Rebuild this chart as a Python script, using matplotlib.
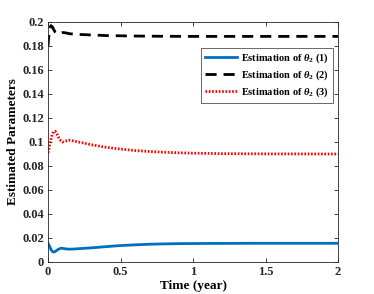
import matplotlib
matplotlib.use("Agg")
import matplotlib.pyplot as plt

plt.rcParams['font.family'] = ['Liberation Serif', 'DejaVu Serif']
plt.rcParams['mathtext.fontset'] = 'custom'
plt.rcParams['mathtext.it'] = 'Liberation Serif:italic:bold'
plt.rcParams['mathtext.rm'] = 'Liberation Serif:bold'
plt.rcParams['mathtext.bf'] = 'Liberation Serif:bold'
plt.rcParams['mathtext.bfit'] = 'Liberation Serif:italic:bold'

t1 = [0, 0.01, 0.02, 0.03, 0.04, 0.05, 0.07, 0.09, 0.11, 0.13, 0.16, 0.2, 0.3, 0.4, 0.5, 0.6, 0.7, 0.8, 0.9, 1.0, 1.2, 1.4, 1.6, 1.8, 2.0]
y1 = [0.0155, 0.0135, 0.0105, 0.0088, 0.0082, 0.0088, 0.0105, 0.0115, 0.0112, 0.0108, 0.0107, 0.0110, 0.0118, 0.0128, 0.0137, 0.0143, 0.0148, 0.0151, 0.0153, 0.0154, 0.0155, 0.0156, 0.0156, 0.0156, 0.0156]

t2 = [0, 0.005, 0.01, 0.02, 0.03, 0.04, 0.05, 0.06, 0.08, 0.1, 0.12, 0.15, 0.2, 0.3, 0.4, 0.6, 0.8, 1.0, 1.5, 2.0]
y2 = [0.1800, 0.1870, 0.1940, 0.1970, 0.1960, 0.1935, 0.1915, 0.1905, 0.1900, 0.1912, 0.1910, 0.1902, 0.1897, 0.1892, 0.1887, 0.1883, 0.1881, 0.1880, 0.1880, 0.1880]

t3 = [0, 0.01, 0.02, 0.03, 0.04, 0.05, 0.06, 0.08, 0.1, 0.12, 0.15, 0.2, 0.3, 0.4, 0.5, 0.6, 0.7, 0.8, 0.9, 1.0, 1.2, 1.5, 2.0]
y3 = [0.0910, 0.0965, 0.1020, 0.1065, 0.1088, 0.1090, 0.1070, 0.1020, 0.1000, 0.1008, 0.1015, 0.1003, 0.0977, 0.0956, 0.0941, 0.0929, 0.0921, 0.0915, 0.0910, 0.0907, 0.0903, 0.0901, 0.0900]

labels = [r'Estimation of $\boldsymbol{\theta}_{\mathbf{2}}$ (1)',
          r'Estimation of $\boldsymbol{\theta}_{\mathbf{2}}$ (2)',
          r'Estimation of $\boldsymbol{\theta}_{\mathbf{2}}$ (3)']

fig = plt.figure(figsize=(3.74, 2.94), dpi=100)
ax = fig.add_axes([48/374, 32/294, 290/374, 240/294])
ax.plot(t1, y1, color='#0072BD', lw=2, label=labels[0])
ax.plot(t2, y2, color='black', lw=2, ls=(0, (4, 2.5)), label=labels[1])
ax.plot(t3, y3, color='red', lw=2, ls=(0, (0.6, 0.6)), label=labels[2])

ax.set_xlim(0, 2)
ax.set_ylim(0, 0.2)
ax.set_xticks([0, 0.5, 1, 1.5, 2])
ax.set_xticklabels(['0', '0.5', '1', '1.5', '2'])
ax.set_yticks([0, 0.02, 0.04, 0.06, 0.08, 0.1, 0.12, 0.14, 0.16, 0.18, 0.2])
ax.set_yticklabels(['0', '0.02', '0.04', '0.06', '0.08', '0.1', '0.12', '0.14', '0.16', '0.18', '0.2'])
ax.tick_params(direction='in', length=3, width=0.6, colors='#262626', labelsize=9, top=True, right=True, pad=3)
for lab in ax.get_xticklabels() + ax.get_yticklabels():
    lab.set_fontweight('bold')
for s in ax.spines.values():
    s.set_color('#262626')
    s.set_linewidth(0.6)
ax.set_xlabel('Time (year)', fontsize=9.5, fontweight='bold', labelpad=1)
ax.set_ylabel('Estimated Parameters', fontsize=9.5, fontweight='bold', labelpad=2)

leg = ax.legend(loc='upper right', bbox_to_anchor=(1.0, 0.915), fontsize=7.5, frameon=True, fancybox=False,
                edgecolor='#262626', handlelength=3.0, handletextpad=0.4, borderpad=0.4, labelspacing=0.3)
leg.get_frame().set_linewidth(0.6)
for txt in leg.get_texts():
    txt.set_fontweight('bold')

fig.savefig('out.png', dpi=100)
